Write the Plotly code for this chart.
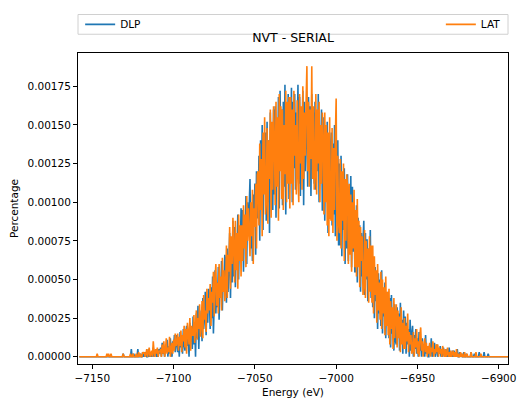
import plotly.graph_objects as go

# Histogram values, in units of 1e-5 (Percentage axis).
# Bins are 0.5 eV apart starting at -7158 eV; each row covers 5 eV.
dlp_e5 = [
    0, 0, 0, 0, 0, 0, 0, 0, 0, 0,              # -7158
    0, 0, 0, 0, 0, 0, 0, 0, 0, 0,              # -7153
    0, 0, 0, 0, 0, 0, 0, 0, 0, 0,              # -7148
    0, 0, 0, 0, 0, 0, 0, 0, 0, 0,              # -7143
    0, 0, 0, 0, 0, 0, 0, 0, 0, 0,              # -7138
    0, 0, 0, 0, 2, 0, 0, 0, 0, 0,              # -7133
    0, 0, 0, 0, 5, 0, 0, 2, 0, 0,              # -7128
    0, 0, 5, 0, 0, 2, 0, 0, 3, 0,              # -7123
    2, 0, 3, 0, 0, 5, 0, 2, 0, 3,              # -7118
    0, 6, 0, 2, 4, 0, 3, 0, 5, 2,              # -7113
    6, 0, 9, 2, 4, 0, 8, 3, 11, 0,             # -7108
    7, 2, 12, 4, 0, 10, 6, 14, 3, 9,           # -7103
    14, 3, 10, 0, 16, 6, 12, 2, 18, 8,         # -7098
    4, 15, 20, 7, 12, 0, 22, 10, 17, 5,        # -7093
    26, 8, 20, 0, 28, 12, 33, 5, 24, 16,       # -7088
    30, 10, 38, 18, 25, 42, 14, 35, 22, 44,    # -7083
    40, 18, 45, 25, 52, 15, 38, 56, 28, 48,    # -7078
    32, 58, 24, 50, 40, 62, 30, 55, 45, 66,    # -7073
    62, 35, 70, 42, 58, 80, 38, 74, 48, 88,    # -7068
    52, 84, 45, 76, 60, 92, 50, 80, 68, 96,    # -7063
    68, 95, 55, 88, 72, 104, 60, 100, 78, 108,     # -7058
    115, 70, 98, 62, 105, 85, 112, 66, 120, 90,    # -7053
    90, 130, 75, 140, 98, 150, 82, 135, 110, 145,  # -7048
    88, 152, 100, 140, 80, 158, 112, 135, 95, 160,  # -7043
    105, 162, 90, 150, 118, 168, 96, 172, 125, 160,  # -7038
    98, 165, 110, 176, 92, 158, 130, 170, 102, 162,  # -7033
    135, 174, 100, 165, 122, 170, 108, 158, 140, 176,  # -7028
    112, 168, 104, 160, 135, 172, 98, 165, 120, 158,   # -7023
    150, 110, 168, 125, 162, 104, 170, 132, 158, 112,  # -7018
    165, 108, 155, 120, 170, 100, 150, 128, 160, 95,   # -7013
    95, 155, 88, 148, 105, 152, 80, 140, 98, 135,      # -7008
    145, 85, 138, 92, 150, 78, 132, 100, 140, 72,      # -7003
    125, 72, 130, 65, 118, 82, 122, 60, 112, 70,       # -6998
    118, 62, 108, 75, 117, 58, 110, 68, 100, 55,       # -6993
    55, 98, 48, 90, 60, 85, 42, 80, 52, 74,    # -6988
    88, 40, 80, 50, 76, 36, 70, 46, 82, 38,    # -6983
    68, 32, 62, 25, 58, 36, 50, 18, 54, 28,    # -6978
    50, 20, 56, 15, 44, 26, 48, 12, 40, 22,    # -6973
    42, 12, 38, 6, 40, 15, 30, 4, 34, 10,      # -6968
    8, 32, 14, 28, 4, 35, 10, 24, 2, 30,       # -6963
    6, 26, 2, 22, 8, 18, 0, 24, 4, 15,         # -6958
    20, 0, 14, 5, 18, 2, 12, 0, 16, 4,         # -6953
    10, 0, 12, 3, 8, 0, 14, 2, 6, 0,           # -6948
    0, 8, 2, 12, 0, 5, 3, 9, 0, 4,             # -6943
    8, 0, 5, 2, 7, 0, 4, 0, 6, 2,              # -6938
    0, 5, 0, 3, 0, 6, 0, 2, 0, 4,              # -6933
    0, 4, 0, 2, 0, 5, 0, 0, 3, 0,              # -6928
    2, 0, 0, 3, 0, 0, 2, 0, 0, 0,              # -6923
    0, 0, 3, 0, 0, 0, 2, 0, 0, 0,              # -6918
    0, 0, 3, 0, 0, 0, 0, 0, 3, 0,              # -6913
    0, 0, 0, 2, 0, 0, 0, 0, 0, 0,              # -6908
    0, 0, 0, 0, 0, 0, 0, 0, 0, 0,              # -6903
    0, 0, 0, 0, 0, 0, 0, 0, 0, 0,              # -6898
]

lat_e5 = [
    0, 0, 0, 0, 0, 0, 0, 0, 0, 0,              # -7158
    0, 0, 0, 0, 0, 0, 0, 0, 0, 0,              # -7153
    0, 0, 2, 0, 0, 0, 0, 0, 0, 0,              # -7148
    0, 0, 0, 0, 2, 0, 2, 0, 0, 2,              # -7143
    0, 0, 0, 0, 0, 0, 0, 0, 0, 0,              # -7138
    0, 0, 0, 0, 2, 0, 0, 0, 0, 0,              # -7133
    0, 0, 0, 2, 0, 0, 2, 0, 0, 0,              # -7128
    2, 0, 0, 3, 0, 2, 0, 0, 3, 2,              # -7123
    3, 0, 2, 5, 0, 3, 6, 0, 2, 4,              # -7118
    0, 10, 3, 0, 5, 2, 6, 0, 4, 3,             # -7113
    5, 0, 8, 2, 10, 0, 4, 12, 2, 6,            # -7108
    3, 13, 0, 5, 9, 2, 11, 4, 15, 7,           # -7103
    9, 15, 4, 13, 7, 17, 3, 14, 10, 20,        # -7098
    6, 18, 2, 22, 12, 8, 25, 4, 20, 14,        # -7093
    14, 27, 9, 22, 30, 11, 25, 18, 34, 13,     # -7088
    20, 36, 12, 40, 24, 30, 16, 44, 28, 38,    # -7083
    30, 47, 20, 42, 35, 55, 26, 50, 60, 33,    # -7078
    48, 28, 60, 38, 52, 30, 64, 42, 56, 36,    # -7073
    45, 72, 38, 66, 55, 84, 44, 78, 60, 90,    # -7068
    72, 48, 88, 56, 80, 44, 92, 62, 85, 52,    # -7063
    85, 62, 98, 70, 92, 58, 104, 75, 96, 82,   # -7058
    65, 100, 78, 108, 60, 96, 84, 112, 70, 118,    # -7053
    120, 85, 138, 95, 128, 78, 145, 105, 155, 92,  # -7048
    100, 148, 86, 140, 115, 160, 90, 152, 108, 162,  # -7043
    140, 98, 165, 110, 155, 88, 170, 120, 162, 102,  # -7038
    160, 95, 150, 118, 172, 100, 165, 112, 168, 96,  # -7033
    168, 112, 160, 98, 172, 130, 150, 105, 166, 118,  # -7028
    100, 170, 125, 162, 108, 175, 115, 158, 130, 165,  # -7023
    188, 120, 165, 110, 160, 128, 188, 115, 162, 108,  # -7018
    118, 170, 105, 160, 125, 165, 100, 150, 112, 158,  # -7013
    140, 92, 158, 100, 150, 85, 145, 78, 155, 90,      # -7008
    88, 148, 80, 135, 95, 142, 167, 75, 130, 86,       # -7003
    80, 128, 70, 120, 88, 125, 62, 115, 75, 118,       # -6998
    110, 60, 112, 66, 105, 55, 100, 70, 108, 58,       # -6993
    95, 52, 102, 58, 88, 45, 84, 62, 78, 40,   # -6988
    45, 82, 38, 75, 52, 70, 35, 78, 42, 72,    # -6983
    35, 72, 28, 65, 40, 56, 22, 60, 30, 48,    # -6978
    24, 55, 18, 50, 28, 45, 14, 52, 20, 42,    # -6973
    14, 44, 8, 36, 18, 32, 5, 38, 12, 28,      # -6968
    34, 6, 30, 12, 26, 3, 32, 8, 22, 5,        # -6963
    25, 5, 20, 10, 28, 3, 16, 8, 14, 2,        # -6958
    4, 16, 0, 12, 6, 18, 2, 10, 0, 14,         # -6953
    19, 4, 10, 0, 8, 12, 3, 9, 0, 7,           # -6948
    2, 9, 0, 6, 3, 10, 0, 5, 2, 8,             # -6943
    3, 8, 0, 6, 2, 5, 0, 7, 3, 0,              # -6938
    5, 0, 2, 6, 0, 3, 0, 4, 0, 2,              # -6933
    4, 0, 3, 0, 5, 0, 2, 0, 0, 3,              # -6928
    0, 2, 0, 0, 3, 0, 0, 2, 0, 0,              # -6923
    0, 0, 3, 0, 0, 0, 0, 0, 3, 0,              # -6918
    0, 0, 0, 0, 2, 0, 0, 0, 0, 0,              # -6913
    0, 0, 0, 0, 0, 0, 0, 0, 0, 0,              # -6908
    0, 0, 0, 0, 0, 0, 0, 0, 0, 0,              # -6903
    0, 0, 0, 0, 0, 0, 0, 0, 0, 0,              # -6898
]

assert len(dlp_e5) == len(lat_e5), (len(dlp_e5), len(lat_e5))

# Bin centres (eV)
E_START, E_STEP = -7158.0, 0.5
energy = [E_START + E_STEP * i for i in range(len(dlp_e5))]

dlp = [v * 1e-5 for v in dlp_e5]
lat = [v * 1e-5 for v in lat_e5]

series_names = ["DLP", "LAT"]
x_ticks = [-7150, -7100, -7050, -7000, -6950, -6900]
y_ticks = [0.0, 0.00025, 0.0005, 0.00075, 0.001, 0.00125, 0.0015, 0.00175]

FONT = "DejaVu Sans, Arial, sans-serif"

fig = go.Figure()
fig.add_trace(go.Scatter(x=energy, y=dlp, mode="lines", name=series_names[0],
                         line=dict(color="#1f77b4", width=1.6), legend="legend",
                         showlegend=True))
fig.add_trace(go.Scatter(x=energy, y=lat, mode="lines", name=series_names[1],
                         line=dict(color="#ff7f0e", width=1.6), legend="legend2",
                         showlegend=True))

axis_common = dict(showgrid=False, zeroline=False, showline=True, linecolor="black",
                   linewidth=1, mirror=True, ticks="outside", ticklen=4,
                   tickcolor="black", tickfont=dict(family=FONT, size=10.5, color="black"))

fig.update_layout(
    width=518, height=398,
    showlegend=True,
    margin=dict(l=78, r=10, t=49, b=34),
    paper_bgcolor="white", plot_bgcolor="white",
    font=dict(family=FONT, size=10.5, color="black"),
    title=dict(text="NVT - SERIAL", x=0.5, xref="paper", y=1 - 38 / 398,
               yanchor="middle", font=dict(family=FONT, size=12.5, color="black")),
    xaxis=dict(range=[-7158.8, -6894.3], tickvals=x_ticks,
               title=dict(text="Energy (eV)", standoff=6,
                          font=dict(family=FONT, size=10.5, color="black")),
               automargin=False, **axis_common),
    yaxis=dict(range=[-0.0000466, 0.001965], tickvals=y_ticks, tickformat=".5f",
               title=dict(text="Percentage", standoff=6,
                          font=dict(family=FONT, size=10.5, color="black")),
               automargin=False, **axis_common),
    legend=dict(x=0.005, xanchor="left", y=1.092, yanchor="middle",
                bgcolor="rgba(0,0,0,0)", font=dict(family=FONT, size=10.5)),
    legend2=dict(x=0.995, xanchor="right", y=1.092, yanchor="middle",
                 bgcolor="rgba(0,0,0,0)", font=dict(family=FONT, size=10.5)),
    shapes=[dict(type="rect", xref="paper", yref="paper", x0=0, x1=1,
                 y0=(364 - 30) / 315, y1=(364 - 10) / 315,
                 line=dict(color="#d0d0d0", width=1), fillcolor="rgba(0,0,0,0)",
                 layer="above")],
)

fig.write_html("out.html")
